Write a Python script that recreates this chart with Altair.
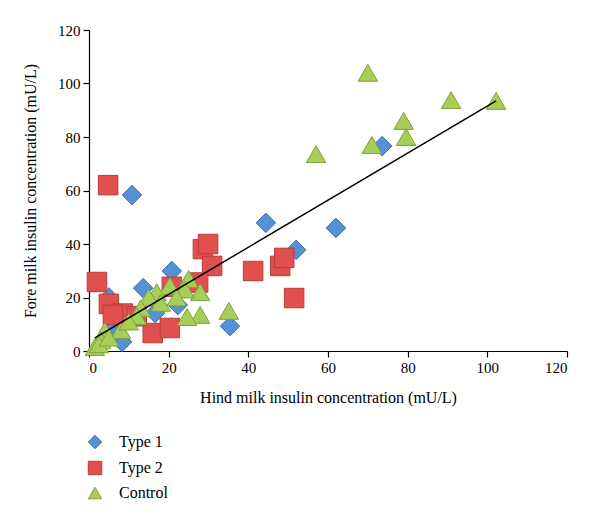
import altair as alt
import pandas as pd

groups = ["Type 1", "Type 2", "Control"]

t1_x = [10.8, 73.6, 44.4, 62.0, 52.0, 35.4, 20.8, 13.6, 5.0, 22.3, 8.3, 16.6, 6.0]
t1_y = [58.3, 76.6, 47.9, 46.0, 37.8, 9.3, 29.9, 23.5, 20.0, 17.2, 3.4, 14.2, 8.0]

t2_x = [4.8, 2.0, 5.0, 8.5, 6.0, 16.0, 20.3, 28.6, 29.9, 30.9, 41.2, 48.0, 49.0, 51.5, 27.4, 20.8, 12.0]
t2_y = [62.0, 25.8, 17.6, 14.0, 13.5, 6.7, 8.6, 38.1, 40.0, 31.8, 29.9, 31.8, 34.8, 19.8, 25.6, 24.0, 13.0]

c_x = [70.0, 90.9, 102.2, 79.0, 79.6, 71.0, 57.0, 35.1, 27.9, 24.6, 27.9, 25.0, 24.0,
       20.3, 17.0, 15.0, 13.0, 12.0, 18.0, 8.0, 4.0, 3.0, 1.5, 2.5, 5.0, 22.0, 10.0]
c_y = [104.0, 93.8, 93.5, 86.0, 80.0, 77.0, 73.6, 15.0, 13.5, 12.7, 22.0, 26.9, 23.0,
       24.3, 22.0, 20.0, 16.0, 13.0, 18.0, 7.8, 7.5, 4.0, 1.5, 2.5, 5.0, 20.0, 11.0]

fit_x = [1.5, 102.2]
fit_y = [4.9, 93.5]

rows = []
for g, xs, ys in [("Type 1", t1_x, t1_y), ("Type 2", t2_x, t2_y), ("Control", c_x, c_y)]:
    for a, b in zip(xs, ys):
        rows.append({"hind": a, "fore": b, "group": g})
df = pd.DataFrame(rows)
fit = pd.DataFrame({"hind": fit_x, "fore": fit_y})

serif = "Liberation Serif"

xscale = alt.Scale(domain=[0, 120], nice=False)
yscale = alt.Scale(domain=[0, 120], nice=False)

points = alt.Chart(df).mark_point(filled=True, opacity=1, strokeWidth=1, size=380).encode(
    x=alt.X("hind:Q", scale=xscale,
            axis=alt.Axis(title="Hind milk insulin concentration (mU/L)", values=list(range(0, 121, 20)),
                          grid=False, tickSize=6, titlePadding=14, labelPadding=3)),
    y=alt.Y("fore:Q", scale=yscale,
            axis=alt.Axis(title="Fore milk insulin concentration (mU/L)", values=list(range(0, 121, 20)),
                          grid=False, tickSize=6, titlePadding=19, labelPadding=3)),
    fill=alt.Fill("group:N", scale=alt.Scale(domain=groups, range=["#5690D6", "#E2504E", "#A7CE58"]),
                  legend=alt.Legend(title=None, orient="none", legendX=-2, legendY=404,
                                    symbolSize=180, labelFontSize=16, labelFont=serif,
                                    rowPadding=8, labelOffset=16, symbolStrokeWidth=1)),
    stroke=alt.Stroke("group:N", scale=alt.Scale(domain=groups, range=["#3C6CAA", "#B53D3B", "#7FA23C"])),
    shape=alt.Shape("group:N", scale=alt.Scale(domain=groups, range=["diamond", "square", "triangle-up"])),
    order=alt.Order("ord:Q"),
).transform_calculate(
    ord="datum.group === 'Type 1' ? 0 : (datum.group === 'Type 2' ? 1 : 2)"
)

line = alt.Chart(fit).mark_line(color="black", strokeWidth=1.5).encode(
    x=alt.X("hind:Q", scale=xscale),
    y=alt.Y("fore:Q", scale=yscale),
)

chart = alt.layer(points, line).properties(
    width=478, height=321,
    autosize=alt.AutoSizeParams(type="none"),
    padding={"left": 81, "top": 22, "right": 20, "bottom": 170},
).configure_view(stroke=None).configure_axis(
    labelFont=serif, titleFont=serif, labelFontSize=15, titleFontSize=16,
    titleFontWeight="normal", labelColor="black", titleColor="black",
    domainColor="black", tickColor="black", domainWidth=1.2, tickWidth=1.2
)

chart.save("out.html", embed_options={"renderer": "svg", "actions": False})
